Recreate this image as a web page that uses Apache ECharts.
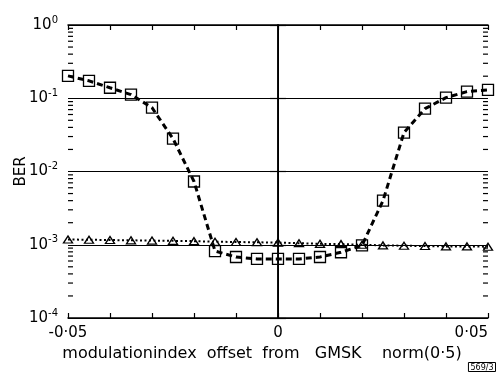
<!DOCTYPE html>
<html>
<head>
<meta charset="utf-8">
<script src="https://cdn.jsdelivr.net/npm/echarts@6/dist/echarts.min.js"></script>
<style>
  html, body { margin: 0; padding: 0; background: #fff; }
  #chart { width: 496px; height: 373px; }
</style>
</head>
<body>
<div id="chart"></div>
<script>
// modulation index offset (x) and BER
var offsets = [-0.05, -0.045, -0.04, -0.035, -0.03, -0.025, -0.02, -0.015, -0.01, -0.005,
  0, 0.005, 0.01, 0.015, 0.02, 0.025, 0.03, 0.035, 0.04, 0.045, 0.05];
var berSquares = [0.202, 0.173, 0.139, 0.112, 0.0743, 0.0281, 0.0073, 0.00082, 0.00068, 0.00064,
  0.00064, 0.00064, 0.00068, 0.00079, 0.00098, 0.0040, 0.034, 0.072, 0.102, 0.123, 0.13];
var berTriangles = [0.00118, 0.00117, 0.00116, 0.00115, 0.00114, 0.00113, 0.00112, 0.0011, 0.00109, 0.00108,
  0.00107, 0.00105, 0.00103, 0.00102, 0.001, 0.00098, 0.00097, 0.00096, 0.00095, 0.00095, 0.00094];
var xTickLabels = { '-0.05': '-0·05', '0': '0', '0.05': '0·05' };
var decades = [0.0001, 0.001, 0.01, 0.1];
var minorSteps = [2, 3, 4, 5, 6, 7, 8, 9];

var FONT = 'DejaVu Sans';

var chart = echarts.init(document.getElementById('chart'));

var minorTicks = [];
decades.forEach(function (d) {
  minorSteps.forEach(function (m) {
    minorTicks.push([0, d * m]);
  });
});

function pairs(ys) {
  return offsets.map(function (x, i) { return [x, ys[i]]; });
}

function xLabel(v) {
  var key = String(Math.round(v * 1000) / 1000);
  return xTickLabels[key] || '';
}

function yLabel(v) {
  var e = Math.round(Math.log10(v));
  return '{b|10}{s|' + (e === 0 ? '0' : '-' + (-e)) + '}';
}

var tickStyle = { inside: true, length: 5, lineStyle: { color: '#000', width: 1.2 } };
var lineAxis = { show: true, lineStyle: { color: '#000', width: 1.5 } };

var option = {
  animation: false,
  backgroundColor: '#fff',
  grid: { left: 68, right: 8, top: 25, bottom: 55, outerBoundsMode: 'none', containLabel: false },
  xAxis: [
    {
      type: 'value', min: -0.05, max: 0.05, interval: 0.01,
      axisLine: lineAxis, axisTick: tickStyle, splitLine: { show: false },
      axisLabel: {
        formatter: xLabel, color: '#000', fontSize: 15, fontFamily: FONT, margin: 8,
        showMinLabel: true, showMaxLabel: true, alignMaxLabel: 'right'
      },
      name: 'modulationindex  offset  from   GMSK    norm(0·5)',
      nameLocation: 'middle', nameGap: 26,
      nameTextStyle: { color: '#000', fontSize: 16, fontFamily: FONT, padding: [0, 32, 0, 0] }
    },
    {
      type: 'value', position: 'top', min: -0.05, max: 0.05, interval: 0.01,
      axisLine: lineAxis, axisTick: tickStyle, axisLabel: { show: false }, splitLine: { show: false }
    }
  ],
  yAxis: [
    {
      type: 'log', logBase: 10, min: 0.0001, max: 1,
      axisLine: lineAxis, axisTick: { inside: true, length: 8, lineStyle: { color: '#000', width: 1.2 } },
      splitLine: { show: true, lineStyle: { color: '#000', width: 1.2 } },
      axisLabel: {
        formatter: yLabel, color: '#000', margin: 10,
        rich: {
          b: { fontSize: 15, fontFamily: FONT, color: '#000' },
          s: { fontSize: 10, fontFamily: FONT, color: '#000', padding: [0, 0, 10, 0] }
        }
      },
      name: 'BER', nameLocation: 'middle', nameGap: 39, nameMoveOverlap: false,
      nameTextStyle: { color: '#000', fontSize: 15, fontFamily: FONT }
    },
    {
      type: 'log', logBase: 10, min: 0.0001, max: 1, position: 'right',
      axisLine: lineAxis, axisTick: { inside: true, length: 8, lineStyle: { color: '#000', width: 1.2 } },
      axisLabel: { show: false }, splitLine: { show: false }
    }
  ],
  graphic: [
    {
      type: 'text', right: 0, bottom: 1,
      style: {
        text: '569/3', fontSize: 8, fontFamily: FONT, fill: '#000',
        borderColor: '#000', borderWidth: 1, padding: [1, 2, 0, 2]
      }
    }
  ],
  series: [
    {
      // minor log ticks on both y edges
      type: 'custom', silent: true, z: 1,
      data: minorTicks,
      renderItem: function (params, api) {
        var v = api.value(1);
        var l = api.coord([-0.05, v]);
        var r = api.coord([0.05, v]);
        var st = { stroke: '#000', lineWidth: 1.2 };
        return {
          type: 'group',
          children: [
            { type: 'line', shape: { x1: l[0], y1: l[1], x2: l[0] + 5, y2: l[1] }, style: st },
            { type: 'line', shape: { x1: r[0] - 5, y1: r[1], x2: r[0], y2: r[1] }, style: st }
          ]
        };
      },
      markLine: {
        silent: true, symbol: 'none', label: { show: false },
        lineStyle: { color: '#000', type: 'solid', width: 1 },
        data: [{ xAxis: 0 }]
      }
    },
    {
      name: 'triangles', type: 'line', z: 3,
      data: pairs(berTriangles),
      showAllSymbol: true, symbol: 'triangle', symbolSize: [9, 7],
      itemStyle: { color: 'rgba(0,0,0,0)', borderColor: '#000', borderWidth: 1.3 },
      lineStyle: { color: '#000', width: 2, type: [2, 2.5] }
    },
    {
      name: 'squares', type: 'line', z: 4,
      data: pairs(berSquares),
      showAllSymbol: true, symbol: 'rect', symbolSize: 11,
      itemStyle: { color: 'rgba(0,0,0,0)', borderColor: '#000', borderWidth: 1.3 },
      lineStyle: { color: '#000', width: 3, type: [6, 4] }
    }
  ]
};

chart.setOption(option);
</script>
</body>
</html>
